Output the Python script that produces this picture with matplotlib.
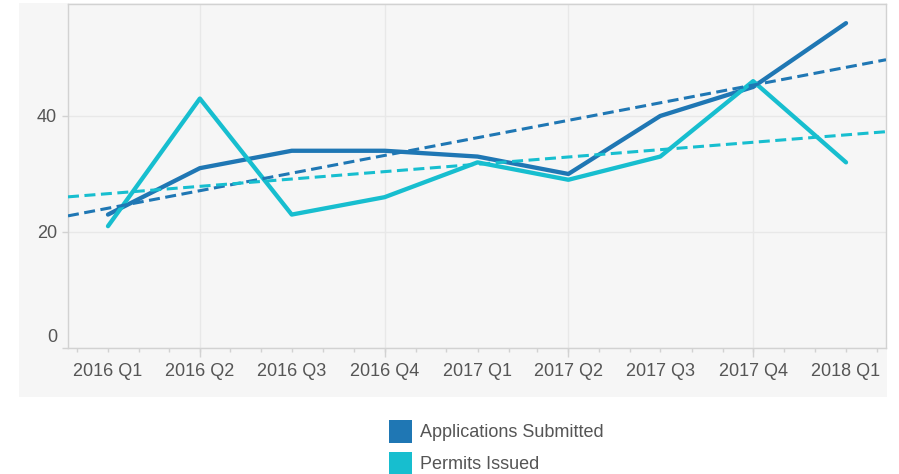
import matplotlib
matplotlib.use('Agg')
import matplotlib.pyplot as plt
import matplotlib.dates as mdates
import matplotlib.ticker as mticker
from matplotlib.patches import Rectangle, Patch
from matplotlib.transforms import ScaledTranslation
import numpy as np
import datetime as dt

plt.rcParams['font.family'] = ['Liberation Sans', 'DejaVu Sans']

# ---- data ----
quarters = ['2016 Q1', '2016 Q2', '2016 Q3', '2016 Q4', '2017 Q1',
            '2017 Q2', '2017 Q3', '2017 Q4', '2018 Q1']
quarter_starts = ['2016-01-01', '2016-04-01', '2016-07-01', '2016-10-01',
                  '2017-01-01', '2017-04-01', '2017-07-01', '2017-10-01',
                  '2018-01-01']
applications = [23, 31, 34, 34, 33, 30, 40, 45, 56]
permits = [21, 43, 23, 26, 32, 29, 33, 46, 32]
series_names = ['Applications Submitted', 'Permits Issued']
y_ticks = [0, 20, 40]

BLUE = '#1f77b4'
CYAN = '#17becf'
TEXT = '#555555'
BG = '#f6f6f6'
GRID = '#e8e8e8'
SPINE = '#d2d2d2'

W, H = 899, 474
fig = plt.figure(figsize=(W / 100, H / 100), dpi=100)
fig.patch.set_facecolor('white')
bg = Rectangle((19 / W, 77 / H), 868 / W, 394 / H,
               transform=fig.transFigure, facecolor=BG,
               edgecolor='none', zorder=-10)
fig.patches.append(bg)

ax = fig.add_axes([68 / W, 126 / H, 818 / W, 344 / H])
ax.set_facecolor(BG)
ax.set_zorder(1)

x = mdates.date2num([dt.datetime.strptime(d, '%Y-%m-%d') for d in quarter_starts])
label_map = {round(v): q for v, q in zip(x, quarters)}

ax.set_xlim(x[0] - 39.6, x[-1] + 39.6)
ax.set_ylim(0, 59.3)

for vals, col in [(applications, BLUE), (permits, CYAN)]:
    ax.plot(x, vals, color=col, lw=3.1, solid_capstyle='round',
            solid_joinstyle='round', zorder=3)

xl = np.array(ax.get_xlim())
for vals, col in [(applications, BLUE), (permits, CYAN)]:
    coef = np.polyfit(x, vals, 1)
    ax.plot(xl, np.polyval(coef, xl), color=col, lw=2.2,
            dashes=(3.6, 1.8), zorder=4)

# y axis
ax.set_yticks(y_ticks)
ax.tick_params(axis='y', length=4.3, width=1, color=SPINE, labelcolor=TEXT,
               labelsize=13, pad=3.6)

# x axis
ax.xaxis.set_major_locator(mdates.MonthLocator(bymonth=[4, 10]))
ax.xaxis.set_major_formatter(mticker.NullFormatter())
ax.xaxis.set_minor_locator(mdates.MonthLocator())
ax.xaxis.set_minor_formatter(mticker.FuncFormatter(
    lambda v, p: label_map.get(round(v), '')))
ax.xaxis.remove_overlapping_locs = False
ax.tick_params(axis='x', which='major', length=6.5, width=1, color=SPINE)
ax.tick_params(axis='x', which='minor', length=2.9, width=1, color=SPINE,
               labelcolor=TEXT, labelsize=13, pad=8.2)

ax.grid(True, which='major', color=GRID, lw=1, zorder=0)
ax.set_axisbelow(True)

for s in ax.spines.values():
    s.set_color(SPINE)
    s.set_linewidth(1)

# shift zero label up
for lab in ax.get_yticklabels():
    if lab.get_text() in ('0',):
        lab.set_transform(lab.get_transform() +
                          ScaledTranslation(0, 0.12, fig.dpi_scale_trans))

handles = [Patch(facecolor=BLUE, edgecolor='none'),
           Patch(facecolor=CYAN, edgecolor='none')]
leg = fig.legend(handles, series_names, loc='upper left',
                 bbox_to_anchor=(389 / W, 1 - 420 / H), frameon=False,
                 fontsize=13, handlelength=1.28, handleheight=1.55,
                 handletextpad=0.45, labelspacing=0.5, borderpad=0,
                 borderaxespad=0, labelcolor=TEXT)

fig.savefig('out.png', dpi=100)
